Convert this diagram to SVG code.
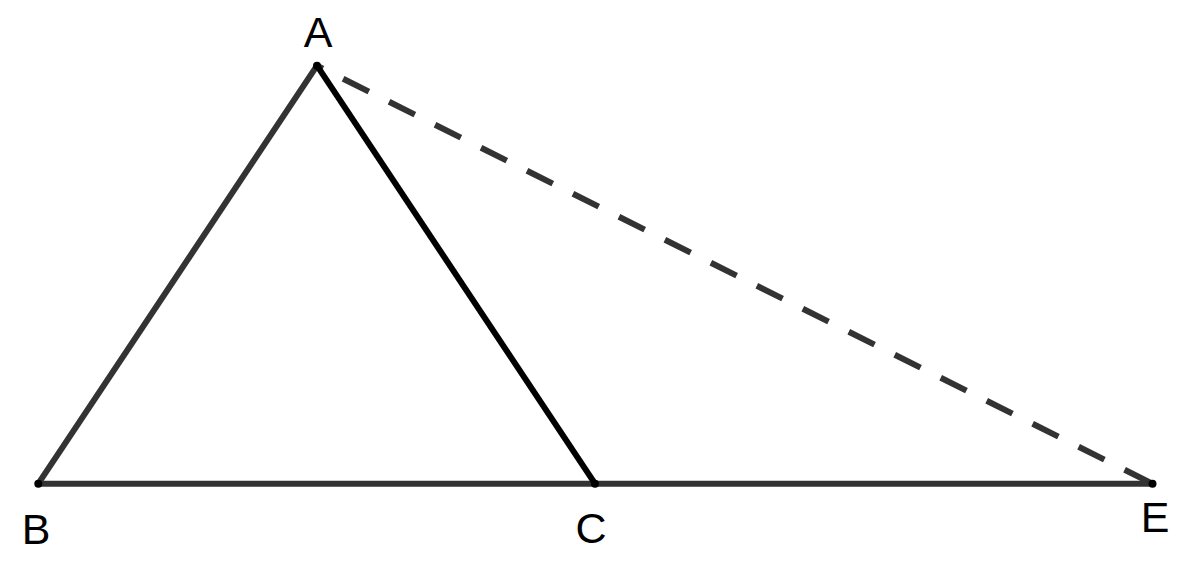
<svg xmlns="http://www.w3.org/2000/svg" width="1200" height="561" viewBox="0 0 1200 561">
<style>
.seg{stroke:#333333;stroke-width:6;fill:none;stroke-linecap:butt}
.dark{stroke:#000000}
.dash{stroke-dasharray:28.8 22.6;stroke-dashoffset:22.2}
.pt{fill:#000000}
.lbl{font-family:"Liberation Sans",Arial,sans-serif;font-size:43px;fill:#000000;text-anchor:middle}
</style>
<rect width="1200" height="561" fill="#ffffff"/>
<g id="connectors">
<line class="seg" x1="317" y1="65.7" x2="38.3" y2="483.7"/>
<line class="seg" x1="38.3" y1="483.7" x2="1152.5" y2="483.7"/>
<line class="seg dash" x1="317" y1="65.7" x2="1152.5" y2="483.7"/>
<line class="seg dark" x1="317" y1="65.7" x2="595" y2="483.7"/>
</g>
<g id="A"><circle class="pt" cx="317" cy="65.7" r="4"/><text class="lbl" x="318" y="46.7">A</text></g>
<g id="B"><circle class="pt" cx="38.3" cy="483.7" r="4"/><text class="lbl" x="36" y="543.5">B</text></g>
<g id="C"><circle class="pt" cx="595" cy="483.7" r="4"/><text class="lbl" x="591" y="542.5">C</text></g>
<g id="E"><circle class="pt" cx="1152.5" cy="483.7" r="4"/><text class="lbl" x="1155" y="532.3">E</text></g>
</svg>
